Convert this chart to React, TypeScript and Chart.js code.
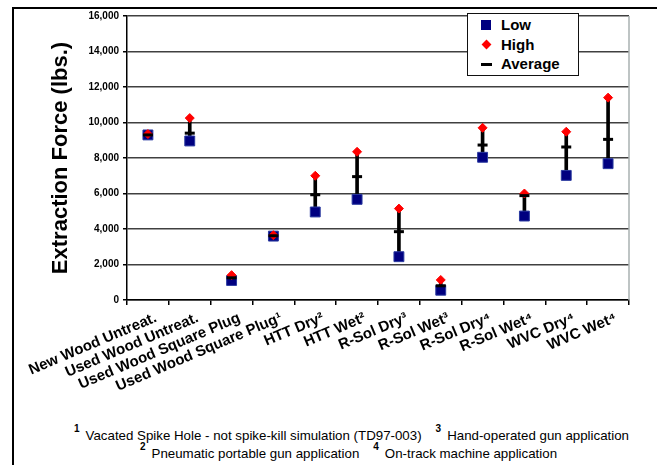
import React, { useEffect, useRef } from "react";
import { Chart, registerables } from "chart.js";

Chart.register(...registerables);

const categories = [
  "New Wood Untreat.",
  "Used Wood Untreat.",
  "Used Wood Square Plug",
  "Used Wood Square Plug\u00B9",
  "HTT Dry\u00B2",
  "HTT Wet\u00B2",
  "R-Sol Dry\u00B3",
  "R-Sol Wet\u00B3",
  "R-Sol Dry\u2074",
  "R-Sol Wet\u2074",
  "WVC Dry\u2074",
  "WVC Wet\u2074",
];

const lowValues = [9300, 8960, 1100, 3600, 4960, 5670, 2440, 550, 8040, 4730, 7020, 7680];
const highValues = [9350, 10250, 1400, 3650, 7000, 8350, 5150, 1130, 9700, 6000, 9480, 11400];
const avgValues = [9300, 9400, 1250, 3620, 5930, 6950, 3850, 800, 8730, 5880, 8620, 9050];

const yTickValues = [0, 2000, 4000, 6000, 8000, 10000, 12000, 14000, 16000];
const yTitle = "Extraction Force (lbs.)";

const FONT = 'Arial, "Liberation Sans", sans-serif';

const rightBorderPlugin = {
  id: "rightBorder",
  beforeDatasetsDraw(chart: any) {
    const { ctx, chartArea } = chart;
    ctx.save();
    ctx.strokeStyle = "#a8b0b0";
    ctx.lineWidth = 1.5;
    ctx.beginPath();
    ctx.moveTo(chartArea.right, chartArea.top);
    ctx.lineTo(chartArea.right, chartArea.bottom);
    ctx.stroke();
    ctx.restore();
  },
};

function ExtractionChart() {
  const ref = useRef<HTMLCanvasElement | null>(null);
  useEffect(() => {
    if (!ref.current) return;
    const ranges = categories.map((_, i) => [lowValues[i], highValues[i]]);
    const chart = new Chart(ref.current, {
      type: "bar",
      data: {
        labels: categories,
        datasets: [
          {
            type: "line",
            label: "Average",
            data: avgValues,
            showLine: false,
            pointStyle: "line",
            pointRadius: 5,
            pointBorderWidth: 3,
            pointBorderColor: "#000",
            pointBackgroundColor: "#000",
            order: 0,
          } as any,
          {
            type: "line",
            label: "High",
            data: highValues,
            showLine: false,
            pointStyle: "rectRot",
            pointRadius: 4.5,
            pointBorderWidth: 1,
            pointBorderColor: "#ff0000",
            pointBackgroundColor: "#ff0000",
            order: 1,
          } as any,
          {
            type: "line",
            label: "Low",
            data: lowValues,
            showLine: false,
            pointStyle: "rect",
            pointRadius: 7,
            pointBorderWidth: 1,
            pointBorderColor: "#2a3aa0",
            pointBackgroundColor: "#000080",
            order: 2,
          } as any,
          {
            type: "bar",
            label: "Range",
            data: ranges,
            backgroundColor: "#000",
            barThickness: 3,
            borderSkipped: false,
            order: 3,
          } as any,
        ],
      },
      options: {
        animation: false,
        responsive: false,
        events: [],
        layout: { padding: { left: 0, top: 16, right: 28, bottom: 0 } },
        plugins: {
          legend: { display: false },
          tooltip: { enabled: false },
        },
        scales: {
          x: {
            offset: true,
            grid: {
              offset: true,
              drawOnChartArea: false,
              drawTicks: true,
              tickLength: 5,
              color: "#000",
              lineWidth: 1.5,
            },
            border: { color: "#000", width: 1.5 },
            ticks: {
              autoSkip: false,
              maxRotation: 23,
              minRotation: 23,
              color: "#000",
              padding: 4,
              labelOffset: 8,
              font: { family: FONT, size: 15, weight: "bold" },
            },
            afterFit(scale: any) {
              scale.height = 115;
            },
          },
          y: {
            min: 0,
            max: 16000,
            afterBuildTicks(scale: any) {
              scale.ticks = yTickValues.map((v) => ({ value: v }));
            },
            grid: {
              color: "#404040",
              lineWidth: 1.5,
              tickLength: 4,
              tickColor: "#000",
            },
            border: { color: "#000", width: 1.5 },
            ticks: {
              color: "#000",
              padding: 4,
              font: { family: FONT, size: 10, weight: "bold" },
              callback: (v: any) => Number(v).toLocaleString("en-US"),
            },
            title: {
              display: true,
              text: yTitle,
              color: "#000",
              font: { family: FONT, size: 22, weight: "bold" },
              padding: { top: 48, bottom: 0 },
            },
            afterFit(scale: any) {
              scale.width = 127;
            },
          },
        },
      },
      plugins: [rightBorderPlugin],
    });
    return () => chart.destroy();
  }, []);
  return <canvas ref={ref} width={657} height={415} style={{ display: "block" }} />;
}

const legendItems = [
  { label: "Low", kind: "square" },
  { label: "High", kind: "diamond" },
  { label: "Average", kind: "dash" },
];

function Legend() {
  return (
    <div
      style={{
        position: "absolute",
        left: 467,
        top: 13,
        width: 112,
        height: 63,
        border: "1.5px solid #111",
        background: "#fff",
        boxSizing: "border-box",
        fontFamily: FONT,
      }}
    >
      {legendItems.map((it, i) => (
        <div key={it.label} style={{ position: "absolute", left: 0, top: 1 + i * 19.5, height: 20, width: 110 }}>
          {it.kind === "square" && (
            <div style={{ position: "absolute", left: 13, top: 5, width: 10, height: 10, background: "#000080" }} />
          )}
          {it.kind === "diamond" && (
            <div
              style={{
                position: "absolute",
                left: 15,
                top: 6,
                width: 7,
                height: 7,
                background: "#ff0000",
                transform: "rotate(45deg)",
              }}
            />
          )}
          {it.kind === "dash" && (
            <div style={{ position: "absolute", left: 13, top: 9, width: 11, height: 3, background: "#000" }} />
          )}
          <div
            style={{
              position: "absolute",
              left: 33,
              top: 0,
              fontSize: 15,
              fontWeight: "bold",
              lineHeight: "20px",
              color: "#000",
            }}
          >
            {it.label}
          </div>
        </div>
      ))}
    </div>
  );
}

function Sup({ n }: { n: string }) {
  return (
    <span style={{ fontSize: 10, fontWeight: "bold", position: "relative", top: -8, marginRight: 6 }}>{n}</span>
  );
}

export default function App() {
  return (
    <div
      style={{
        position: "absolute",
        left: 0,
        top: 0,
        width: 657,
        height: 465,
        background: "#fff",
        overflow: "hidden",
        fontFamily: FONT,
      }}
    >
      <div
        style={{
          position: "absolute",
          left: 12,
          top: 7,
          right: -5,
          bottom: -5,
          borderTop: "2px solid #000",
          borderLeft: "2px solid #000",
        }}
      />
      <div style={{ position: "absolute", left: 0, top: 0 }}>
        <ExtractionChart />
      </div>
      <Legend />
      <div
        style={{
          position: "absolute",
          left: 74,
          top: 428,
          fontSize: 13.3,
          whiteSpace: "nowrap",
          color: "#000",
          lineHeight: "16px",
        }}
      >
        <Sup n="1" />
        Vacated Spike Hole - not spike-kill simulation (TD97-003)
        <span style={{ display: "inline-block", width: 14 }} />
        <Sup n="3" />
        Hand-operated gun application
      </div>
      <div
        style={{
          position: "absolute",
          left: 140,
          top: 446,
          fontSize: 13.3,
          whiteSpace: "nowrap",
          color: "#000",
          lineHeight: "16px",
        }}
      >
        <Sup n="2" />
        Pneumatic portable gun application
        <span style={{ display: "inline-block", width: 14 }} />
        <Sup n="4" />
        On-track machine application
      </div>
    </div>
  );
}
